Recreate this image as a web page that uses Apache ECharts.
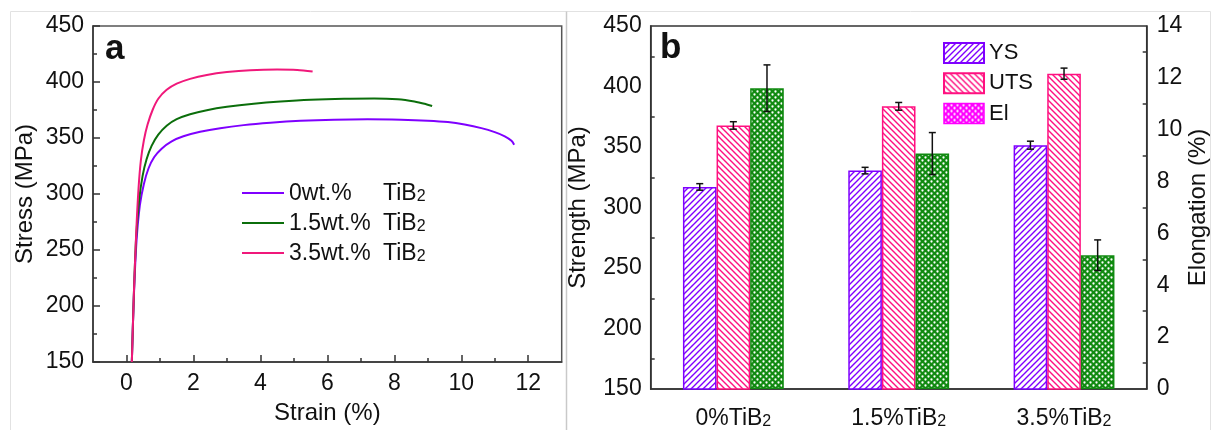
<!DOCTYPE html>
<html>
<head>
<meta charset="utf-8">
<script src="https://cdn.jsdelivr.net/npm/echarts@6/dist/echarts.min.js"></script>
<style>
  html, body { margin: 0; padding: 0; background: #fff; }
  #chart { width: 1213px; height: 430px; }
</style>
</head>
<body>
<div id="chart"></div>
<script>
const FONT = '"Liberation Sans", Arial, Helvetica, sans-serif';

// ---- (a) engineering stress-strain curves: [strain %, stress MPa] ----
const curve0wt = [[0.16,150],[0.22,208],[0.3,258],[0.4,290],[0.52,309],[0.66,323],[0.83,333],[1.05,340.5],[1.35,347],[1.7,351.5],[2.2,355.5],[2.8,358.8],[3.5,361.5],[4.3,363.6],[5.2,365.3],[6.2,366.4],[7.2,366.8],[8.2,366.4],[9.0,365.5],[9.6,364.2],[10.1,362],[10.6,358.8],[11.0,355.2],[11.3,351.5],[11.5,347.5],[11.58,344]];
const curve15wt = [[0.16,150],[0.22,210],[0.29,262],[0.38,295],[0.48,316],[0.6,331],[0.75,343],[0.95,353],[1.2,361],[1.5,366.8],[1.9,371.2],[2.4,374.8],[3.0,377.8],[3.8,380.6],[4.6,382.6],[5.5,384.2],[6.5,385.1],[7.4,385.3],[8.1,384.6],[8.6,382.6],[8.95,380.2],[9.13,378.6]];
const curve35wt = [[0.16,150],[0.22,210],[0.29,265],[0.36,305],[0.43,330],[0.52,348],[0.63,362],[0.78,375],[0.95,385],[1.2,393],[1.5,398.5],[1.9,402.8],[2.4,406.3],[3.0,408.9],[3.7,410.6],[4.5,411.2],[5.1,410.8],[5.56,409.3]];
const curveNames = ['0wt.%', '1.5wt.%', '3.5wt.%'];
const strainTicks = [0, 2, 4, 6, 8, 10, 12];
const strainMinorTicks = [1, 3, 5, 7, 9, 11];

// ---- (b) tensile properties per TiB2 content ----
const groups = ['0%', '1.5%', '3.5%'];
const ysValues = [317, 330.5, 351.5];
const ysErrors = [2.7, 2.7, 3.3];
const utsValues = [367.8, 383.6, 410.6];
const utsErrors = [3.1, 3.2, 4.6];
const elValues = [11.6, 9.08, 5.16];
const elErrors = [0.9, 0.81, 0.59];
const propNames = ['YS', 'UTS', 'El'];

const PURPLE = '#7f00ff';
const GREEN_LINE = '#0b6e0b';
const PINK_LINE = '#f0187a';
const PINK = '#ff1080';
const GREEN = '#118a11';
const MAGENTA = '#ff00ff';
const AXIS = '#333';
const TEXT = '#111';
const CAT_GAP = 0.39;

// hatch fills for the bars
function hatch(color, slash) {
  const size = 6;
  const c = document.createElement('canvas');
  c.width = c.height = size;
  const g = c.getContext('2d');
  g.fillStyle = '#fff';
  g.fillRect(0, 0, size, size);
  g.strokeStyle = color;
  g.lineWidth = 1.4;
  g.beginPath();
  if (slash) {
    g.moveTo(-1, size + 1); g.lineTo(size + 1, -1);
    g.moveTo(-1, 1); g.lineTo(1, -1);
    g.moveTo(size - 1, size + 1); g.lineTo(size + 1, size - 1);
  } else {
    g.moveTo(-1, -1); g.lineTo(size + 1, size + 1);
    g.moveTo(size - 1, -1); g.lineTo(size + 1, 1);
    g.moveTo(-1, size - 1); g.lineTo(1, size + 1);
  }
  g.stroke();
  return { image: c, repeat: 'repeat' };
}
function crossDots(color) {
  const size = 6;
  const c = document.createElement('canvas');
  c.width = c.height = size;
  const g = c.getContext('2d');
  g.fillStyle = color;
  g.fillRect(0, 0, size, size);
  g.fillStyle = '#fff';
  [[1.5, 1.5], [4.5, 4.5]].forEach(([x, y]) => {
    g.beginPath(); g.arc(x, y, 1.15, 0, Math.PI * 2); g.fill();
  });
  return { image: c, repeat: 'repeat' };
}

function errorBars(values, errors, slot, yAxisIndex) {
  return {
    type: 'custom',
    xAxisIndex: 1,
    yAxisIndex: yAxisIndex,
    z: 10,
    silent: true,
    data: values.map((v, i) => [i, v, errors[i]]),
    renderItem(params, api) {
      const i = api.value(0), v = api.value(1), e = api.value(2);
      const band = api.size([1, 0])[0];
      const groupW = band * (1 - CAT_GAP);
      const bw = groupW / 3;
      const x = api.coord([i, v])[0] - groupW / 2 + bw * (slot + 0.5);
      const yt = api.coord([i, v + e])[1];
      const yb = api.coord([i, v - e])[1];
      const cap = 3.5;
      const style = { stroke: '#111', lineWidth: 1.5 };
      return {
        type: 'group',
        children: [
          { type: 'line', shape: { x1: x, y1: yt, x2: x, y2: yb }, style },
          { type: 'line', shape: { x1: x - cap, y1: yt, x2: x + cap, y2: yt }, style },
          { type: 'line', shape: { x1: x - cap, y1: yb, x2: x + cap, y2: yb }, style }
        ]
      };
    }
  };
}

const axisLine = { show: true, onZero: false, lineStyle: { color: AXIS, width: 1.5 } };
const tickStyle = { color: AXIS, width: 1.5 };
const labelStyle = { fontSize: 23, color: TEXT, fontFamily: FONT };
const nameStyle = { fontSize: 24, color: TEXT, fontFamily: FONT };
const curveLine = (data, name, color) => ({
  type: 'line', name, xAxisIndex: 0, yAxisIndex: 0, data,
  showSymbol: false, smooth: 0.3,
  lineStyle: { color, width: 2 }, itemStyle: { color }
});

const chart = echarts.init(document.getElementById('chart'), null, { renderer: 'canvas' });

chart.setOption({
  animation: false,
  backgroundColor: '#fff',
  textStyle: { fontFamily: FONT },
  grid: [
    { left: 93, top: 26, width: 468.7, height: 345.7, show: true, borderColor: '#555', borderWidth: 1.5, backgroundColor: 'transparent' },
    { left: 650.7, top: 26, width: 496, height: 367, show: true, borderColor: AXIS, borderWidth: 1.5, backgroundColor: 'transparent' }
  ],
  xAxis: [
    {
      type: 'value', gridIndex: 0, min: -1, max: 13,
      axisLine,
      axisTick: { inside: true, length: 7, lineStyle: tickStyle, customValues: strainTicks },
      axisLabel: Object.assign({ margin: 10, customValues: strainTicks }, labelStyle),
      splitLine: { show: false },
      name: 'Strain (%)', nameLocation: 'middle', nameGap: 39, nameTextStyle: nameStyle
    },
    {
      type: 'category', gridIndex: 1, data: groups,
      axisLine,
      axisTick: { show: false },
      axisLabel: {
        margin: 17,
        formatter: v => '{m|' + v + 'TiB}{s|2}',
        rich: {
          m: { fontSize: 23, color: TEXT, fontFamily: FONT, lineHeight: 24, verticalAlign: 'bottom' },
          s: { fontSize: 16, color: TEXT, fontFamily: FONT, lineHeight: 16, verticalAlign: 'bottom' }
        }
      },
      splitLine: { show: false }
    },
    {
      type: 'value', gridIndex: 0, min: -1, max: 13, position: 'bottom',
      axisLine: { show: false, onZero: false },
      axisTick: { inside: true, length: 4, lineStyle: tickStyle, customValues: strainMinorTicks },
      axisLabel: { show: false },
      splitLine: { show: false }
    }
  ],
  yAxis: [
    {
      type: 'value', gridIndex: 0, min: 150, max: 450, interval: 50,
      axisLine,
      axisTick: { inside: true, length: 7, lineStyle: tickStyle },
      minorTick: { show: true, splitNumber: 2, length: 4, lineStyle: tickStyle },
      axisLabel: Object.assign({ margin: 9 }, labelStyle),
      splitLine: { show: false },
      name: 'Stress (MPa)', nameLocation: 'middle', nameGap: 56, nameTextStyle: nameStyle
    },
    {
      type: 'value', gridIndex: 1, min: 150, max: 450, interval: 50,
      axisLine,
      axisTick: { inside: true, length: 7, lineStyle: tickStyle },
      minorTick: { show: true, splitNumber: 2, length: 4, lineStyle: tickStyle },
      axisLabel: Object.assign({ margin: 9 }, labelStyle),
      splitLine: { show: false },
      name: 'Strength (MPa)', nameLocation: 'middle', nameGap: 60, nameTextStyle: nameStyle
    },
    {
      type: 'value', gridIndex: 1, position: 'right', min: 0, max: 14, interval: 2,
      axisLine,
      axisTick: { inside: true, length: 7, lineStyle: tickStyle },
      minorTick: { show: true, splitNumber: 2, length: 4, lineStyle: tickStyle },
      axisLabel: Object.assign({ margin: 10 }, labelStyle),
      splitLine: { show: false },
      name: 'Elongation (%)', nameLocation: 'middle', nameGap: 40, nameTextStyle: nameStyle
    }
  ],
  legend: [
    {
      left: 242, top: 182, padding: 0, orient: 'vertical', selectedMode: false,
      icon: 'rect', itemWidth: 42, itemHeight: 2, itemGap: 7,
      data: curveNames,
      formatter: n => '{w|' + n + '}{t|TiB}{s|2}',
      textStyle: {
        rich: {
          w: { width: 94, fontSize: 23, color: TEXT, fontFamily: FONT, lineHeight: 24, verticalAlign: 'bottom' },
          t: { fontSize: 23, color: TEXT, fontFamily: FONT, lineHeight: 24, verticalAlign: 'bottom' },
          s: { fontSize: 16, color: TEXT, fontFamily: FONT, lineHeight: 16, verticalAlign: 'bottom' }
        }
      }
    },
    {
      left: 943, top: 42, padding: 0, orient: 'vertical', selectedMode: false,
      icon: 'rect', itemWidth: 40, itemHeight: 20, itemGap: 8.3,
      data: [
        { name: 'YS' },
        { name: 'UTS' },
        { name: 'El', itemStyle: { color: crossDots(MAGENTA), borderColor: MAGENTA, borderWidth: 1.5 } }
      ],
      textStyle: { fontSize: 22, color: TEXT, fontFamily: FONT, lineHeight: 20 }
    }
  ],
  graphic: [
    { type: 'polyline', silent: true, shape: { points: [[10.5, 430], [10.5, 11.5], [1210.5, 11.5], [1210.5, 430]] }, style: { fill: null, stroke: '#e2e2e2', lineWidth: 1 } },
    { type: 'line', silent: true, shape: { x1: 566.5, y1: 11.5, x2: 566.5, y2: 430 }, style: { stroke: '#c9c9c9', lineWidth: 1.5 } },
    { type: 'text', silent: true, left: 105, top: 32, style: { text: 'a', font: 'bold 35px ' + FONT, fill: TEXT } },
    { type: 'text', silent: true, left: 660, top: 31, style: { text: 'b', font: 'bold 35px ' + FONT, fill: TEXT } }
  ],
  series: [
    curveLine(curve0wt, curveNames[0], PURPLE),
    curveLine(curve15wt, curveNames[1], GREEN_LINE),
    curveLine(curve35wt, curveNames[2], PINK_LINE),
    {
      type: 'bar', name: propNames[0], xAxisIndex: 1, yAxisIndex: 1, data: ysValues,
      barGap: '0%', barCategoryGap: (CAT_GAP * 100) + '%',
      itemStyle: { color: hatch(PURPLE, true), borderColor: PURPLE, borderWidth: 1.5 }
    },
    {
      type: 'bar', name: propNames[1], xAxisIndex: 1, yAxisIndex: 1, data: utsValues,
      barGap: '0%', barCategoryGap: (CAT_GAP * 100) + '%',
      itemStyle: { color: hatch(PINK, false), borderColor: PINK, borderWidth: 1.5 }
    },
    {
      type: 'bar', name: propNames[2], xAxisIndex: 1, yAxisIndex: 2, data: elValues,
      barGap: '0%', barCategoryGap: (CAT_GAP * 100) + '%',
      itemStyle: { color: crossDots(GREEN), borderColor: GREEN, borderWidth: 1.5 }
    },
    errorBars(ysValues, ysErrors, 0, 1),
    errorBars(utsValues, utsErrors, 1, 1),
    errorBars(elValues, elErrors, 2, 2)
  ]
});
</script>
</body>
</html>
